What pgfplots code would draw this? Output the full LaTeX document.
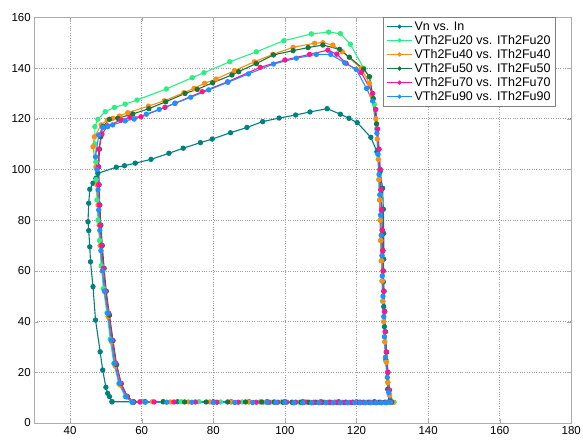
\documentclass[border=0pt]{standalone}
\usepackage{fontspec}
\setmainfont{Liberation Sans}
\usepackage{pgfplots}
\pgfplotsset{compat=1.18}
\definecolor{cVn}{RGB}{0,128,128}
\definecolor{cTwenty}{RGB}{40,240,130}
\definecolor{cForty}{RGB}{255,140,20}
\definecolor{cFifty}{RGB}{20,120,60}
\definecolor{cSeventy}{RGB}{255,20,147}
\definecolor{cNinety}{RGB}{30,144,255}
\begin{document}
\begin{tikzpicture}
\begin{axis}[
  at={(0,0)}, anchor=south west,
  scale only axis, width=537bp, height=405.6bp,
  xmin=30, xmax=180, ymin=0, ymax=160,
  xtick={40,60,...,180}, ytick={0,20,...,160},
  grid=major, grid style={gray!75, dotted, line width=0.6bp},
  axis line style={gray!65, line width=1bp},
  tick style={gray!65},
  tick align=inside, major tick length=4bp,
  ticklabel style={font=\fontsize{11.5bp}{13bp}\selectfont},
  /pgf/number format/assume math mode=true,
  legend style={at={(0.971,1)}, anchor=north east, draw=gray, fill=white,
    font=\fontsize{12.5bp}{14bp}\selectfont, cells={anchor=west},
    inner xsep=3bp, inner ysep=2bp, row sep=-0.5bp},
  legend image code/.code={\draw[mark repeat=2,mark phase=2,#1,mark size=1.5bp] plot coordinates {(0bp,0bp) (12.5bp,0bp) (25bp,0bp)};},
  every axis plot/.append style={line width=1.1bp, mark=*, mark size=2.1bp},
]
\addplot[color=cVn, mark options={fill=cVn}] coordinates {
(51.7,8.4)(51.0,10.4)(50.5,11.7)(50.0,14.1)(49.1,20.9)(48.4,28.1)(47.1,40.6)(46.4,53.8)(45.7,63.6)(45.5,69.5)(45.2,75.9)(45.0,79.4)(45.2,86.7)(45.5,92.2)(46.4,94.6)(47.2,96.5)(47.75,98.5)(52.9,100.9)(55.2,101.5)(58.2,102.5)(62.6,104.0)(67.6,106.4)(71.6,108.4)(76.4,110.6)(79.7,112.0)(84.8,114.5)(89.4,116.6)(93.8,118.9)(98.4,120.3)(103.0,121.5)(107.0,122.7)(111.8,124.0)(115.5,121.8)(117.9,120.2)(120.2,118.5)(124.0,112.7)(125.7,107.0)(126.6,99.1)(127.3,92.6)(127.5,84.3)(127.6,74.8)(127.6,64.6)(127.5,55.7)(127.6,45.9)(127.8,38.0)(128.2,24.9)(128.7,13.3)(129.1,8.4)(125,8.4)(120,8.4)(115,8.4)(110,8.4)(105,8.4)(100,8.4)(95,8.4)(90,8.4)(85,8.4)(80,8.4)(70,8.4)(60,8.4)(51.7,8.4)
};
\addlegendentry{Vn vs. In}
\addplot[color=cTwenty, mark options={fill=cTwenty}] coordinates {
(57.3,8.3)(55.4,10.5)(53.6,15.5)(52.2,23.5)(51.2,33)(50.3,43.5)(49.3,53)(48.7,62)(48.2,72)(47.8,80)(47.5,88)(47.3,96)(47.2,103)(46.9,110)(46.9,116.9)(47.75,119.8)(49.8,122.8)(52.4,124.5)(55.4,125.8)(58.7,127.4)(66.9,131.8)(74.1,136.2)(77.4,138.2)(84.6,142.5)(92.0,146.4)(99.7,150.8)(107.4,153.5)(112.2,154.2)(115.5,153.6)(118.3,149.4)(122.0,139.9)(123.6,136.6)(125,125.7)(125.6,116)(126,106)(126.2,96)(126.4,88)(126.6,80)(126.7,72)(126.9,64)(127.1,56)(127.3,48)(127.6,40)(127.9,32)(128.3,24)(128.8,16)(129.3,11)(130.5,8.2)(128,8.2)(126,8.2)(124,8.2)(122,8.3)(120,8.2)(118,8.2)(116,8.2)(114,8.3)(112,8.2)(110,8.2)(108,8.2)(106,8.3)(104,8.2)(102,8.2)(99,8.3)(96,8.2)(93,8.3)(88,8.3)(82,8.3)(76,8.4)(71,8.4)(66,8.4)(60.5,8.4)(57.3,8.3)
};
\addlegendentry{VTh2Fu20 vs. ITh2Fu20}
\addplot[color=cForty, mark options={fill=cForty}] coordinates {
(57.6,8.3)(55.8,10.3)(54,15)(52.6,22.5)(51.6,32)(50.6,42)(49.6,52)(49,60)(48.4,70)(48.1,78)(47.8,86)(47.5,94)(47.2,101)(46.4,109)(46.8,112.9)(48.7,117.6)(50.4,119.5)(51.9,120.2)(53.8,121.1)(56.1,122.4)(61.9,125)(66.3,127.1)(71.8,130.3)(74.6,132)(77.6,134)(80.8,135.7)(85.9,139)(91.5,142.5)(96.6,145.4)(102.3,148.2)(108.3,149.8)(110.6,150)(113.4,149.1)(116,146.5)(121.3,139.9)(123.6,134)(124.2,129.4)(125.4,120)(125.8,112)(126.1,104)(126.3,96)(126.5,88)(126.6,80)(126.8,72)(127,64)(127.2,56)(127.4,48)(127.6,40)(127.9,32)(128.3,24)(128.7,16)(129.2,11)(130.2,8.1)(128.5,8.1)(127,8.1)(125,8.2)(123,8.2)(121,8.2)(119,8.2)(117,8.2)(115,8.2)(113,8.2)(111,8.2)(109,8.2)(107,8.2)(105,8.2)(103,8.2)(100,8.2)(97,8.2)(94,8.2)(90,8.3)(85,8.3)(79,8.3)(73,8.3)(68,8.3)(63,8.4)(59.5,8.4)(57.6,8.3)
};
\addlegendentry{VTh2Fu40 vs. ITh2Fu40}
\addplot[color=cFifty, mark options={fill=cFifty}] coordinates {
(57.8,8.3)(56,10.5)(54.3,15.5)(53,23)(52,32.5)(51,42.5)(50.1,52)(49.5,61)(49,70)(48.6,78)(48.3,86)(48.1,94)(48,101)(48.2,108)(48.6,113)(49.1,116.9)(51,119.8)(53.3,120.2)(57.5,121.9)(62,124)(66.7,126.7)(72.1,130)(75.5,131.6)(79.8,134.2)(85.2,137.3)(87.1,138.6)(92,141.8)(96.8,145.2)(102.3,146.9)(106.5,148.1)(110.6,149.1)(115.3,147.4)(118,144.3)(122,139.6)(123.6,136.6)(124.7,128)(125.6,118)(126.2,108)(126.6,100)(126.9,92)(127.1,84)(127.2,76)(127.4,68)(127.5,60)(127.7,52)(127.9,44)(128.1,36)(128.4,28)(128.8,20)(129.2,13)(129.8,8.3)(128,8.2)(126.5,8.2)(125,8.2)(123.5,8.2)(121,8.2)(119,8.2)(117,8.2)(115,8.2)(112.5,8.2)(110.5,8.2)(108.5,8.2)(106.5,8.2)(104.5,8.2)(102,8.2)(99.5,8.2)(97,8.3)(93.5,8.3)(89,8.3)(84,8.3)(78,8.3)(72,8.3)(66,8.4)(61,8.4)(57.8,8.3)
};
\addlegendentry{VTh2Fu50 vs. ITh2Fu50}
\addplot[color=cSeventy, mark options={fill=cSeventy}] coordinates {
(57.6,8.2)(55.9,10.4)(54.2,15.7)(52.8,23.5)(51.8,32.7)(50.8,43.3)(49.9,52)(49.3,61)(48.8,70)(48.4,78)(48.2,86)(48,94)(47.9,101)(48,108)(48.9,114)(50.5,117.2)(54.2,119.5)(56.7,120.6)(59.8,120.8)(66.5,124.5)(69.3,126.1)(76.9,130.7)(84,134.6)(93.1,140.3)(100,143.2)(106.9,145.4)(112,147.1)(114.5,145.5)(117.1,141.9)(121.3,138.3)(124.5,130)(125.4,123.7)(125.9,116)(126.3,108)(126.6,100)(126.8,92)(127,84)(127.2,76)(127.3,68)(127.4,60)(127.6,52)(127.8,44)(128,36)(128.3,28)(128.7,20)(129.1,13)(129.6,8.2)(128.3,8.1)(126.8,8.1)(125.3,8.1)(123.8,8.1)(122,8.1)(120.5,8.1)(118.5,8.1)(116.5,8.1)(114.5,8.1)(112.5,8.1)(110,8.1)(108,8.1)(105.5,8.2)(103,8.2)(100.5,8.2)(98,8.2)(95.5,8.2)(92,8.2)(87,8.2)(81,8.2)(75,8.3)(69,8.3)(63.5,8.3)(59.5,8.3)(57.6,8.2)
};
\addlegendentry{VTh2Fu70 vs. ITh2Fu70}
\addplot[color=cNinety, mark options={fill=cNinety}] coordinates {
(57.4,8.2)(55.6,10.4)(53.8,15.7)(52.4,23.5)(51.5,32.7)(50.5,43.3)(49.6,52)(49.1,60)(48.6,68)(48.3,76)(48,84)(47.8,92)(47.5,100)(47.1,105)(48,113.6)(49.1,116.6)(50.5,116.9)(51.9,117.6)(55.4,119.2)(57.9,119.9)(61.3,121.8)(64.9,123.7)(69.3,126.1)(73.7,128.5)(78.7,131.4)(84.1,134.4)(89.8,137.7)(96.8,141.6)(103.2,143.9)(108.8,145.4)(112.8,145.4)(116.7,142.1)(119.9,139.5)(122.8,132)(124.5,127)(125.7,114.3)(126,106)(126.3,98)(126.5,90)(126.7,82)(126.9,74)(127.1,66)(127.2,58)(127.4,50)(127.6,42)(127.8,34)(128.1,26)(128.6,18)(129,12)(129.5,8.1)(128.2,8.0)(127,8.0)(125.5,8.0)(124,8.0)(122.5,8.0)(121,8.0)(119.5,8.0)(117.5,8.0)(115.5,8.0)(113.5,8.0)(111.5,8.0)(109.5,8.0)(107.5,8.0)(105,8.0)(102.5,8.0)(100,8.1)(97.5,8.1)(95,8.1)(91,8.1)(86,8.1)(80,8.1)(74,8.2)(67,8.2)(61,8.2)(57.4,8.2)
};
\addlegendentry{VTh2Fu90 vs. ITh2Fu90}
\end{axis}
\pgfresetboundingbox
\path (-34.3bp,-17bp) rectangle (548.7bp,423bp);
\end{tikzpicture}
\end{document}
